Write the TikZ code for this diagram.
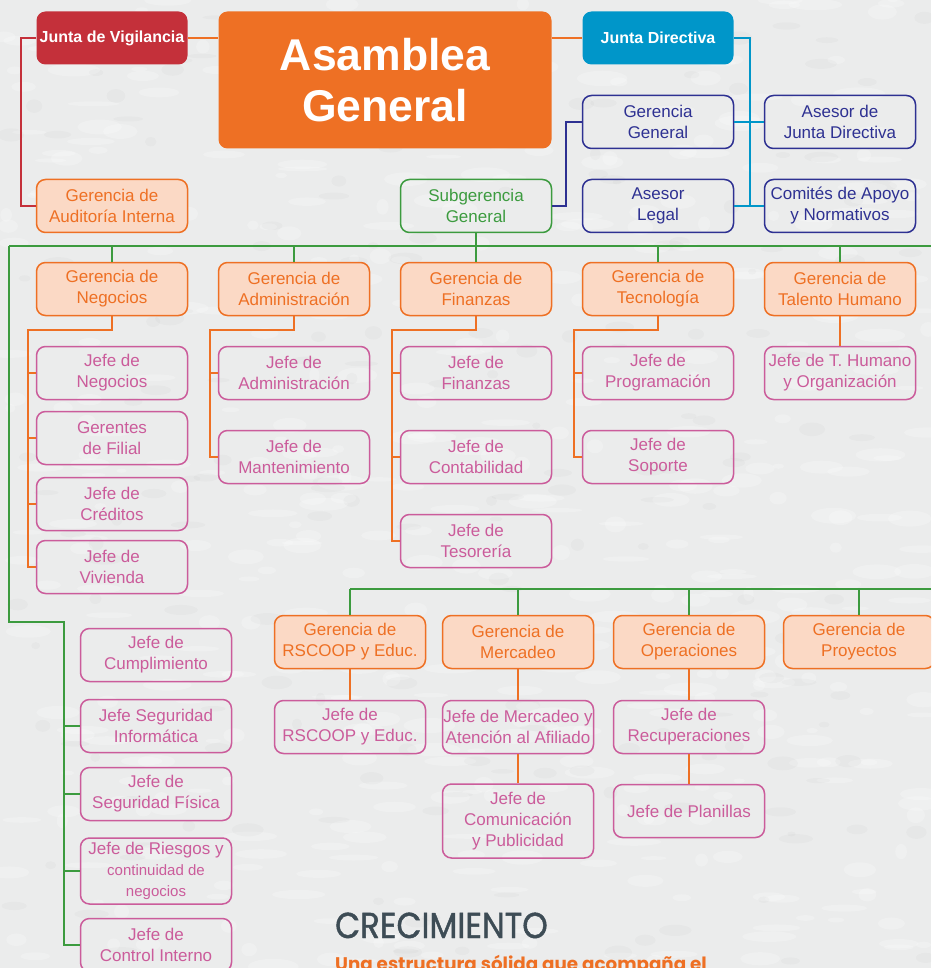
\documentclass[tikz,border=0pt]{standalone}
\usepackage{fontspec}
\setmainfont{Liberation Sans}
\newfontfamily\pop{Poppins}[FakeBold=1.3]
\newfontfamily\popb{Poppins}
\definecolor{bgc}{RGB}{235,236,236}
\definecolor{orC}{RGB}{238,112,36}
\definecolor{peach}{RGB}{251,217,197}
\definecolor{pinkC}{RGB}{203,92,155}
\definecolor{navyC}{RGB}{46,49,146}
\definecolor{blueC}{RGB}{0,150,201}
\definecolor{redC}{RGB}{196,48,58}
\definecolor{grnC}{RGB}{60,155,63}
\definecolor{slateC}{RGB}{61,76,85}
\tikzset{
  box/.style={rounded corners=9pt, line width=1.5pt, align=center, minimum width=151pt, minimum height=53pt, inner sep=0pt, font=\fontsize{17}{21}\selectfont},
  gbox/.style={box, draw=orC, fill=peach, text=orC},
  jbox/.style={box, draw=pinkC, text=pinkC},
  nbox/.style={box, draw=navyC, text=navyC},
  sbox/.style={box, draw=grnC, text=grnC},
  topbox/.style={box, font=\fontsize{16}{20}\selectfont\bfseries, text=white, draw=none},
  ln/.style={line width=2pt},
}
\begin{document}
\begin{tikzpicture}[x=1pt,y=-1pt]
\useasboundingbox (0,0) rectangle (931,968);
\clip (0,0) rectangle (931,968);
\fill[bgc] (0,0) rectangle (931,968);
% subtle paper texture
\pgfmathsetseed{4711}
\foreach \i in {1,...,500} {
  \pgfmathsetmacro{\xx}{rnd*931}
  \pgfmathsetmacro{\yy}{rnd*968}
  \pgfmathsetmacro{\ww}{5+rnd*22}
  \pgfmathsetmacro{\hh}{2+rnd*6}
  \fill[white, opacity=0.22] (\xx,\yy) ellipse [x radius=\ww, y radius=\hh];
}
\foreach \i in {1,...,200} {
  \pgfmathsetmacro{\xx}{rnd*931}
  \pgfmathsetmacro{\yy}{rnd*968}
  \pgfmathsetmacro{\ww}{4+rnd*14}
  \pgfmathsetmacro{\hh}{2+rnd*5}
  \fill[black, opacity=0.018] (\xx,\yy) ellipse [x radius=\ww, y radius=\hh];
}

% top row
\node[topbox, fill=redC] (JV) at (112,38) {Junta de Vigilancia};
\node[topbox, fill=orC, minimum width=333pt, minimum height=137pt, font=\fontsize{44.5}{51}\selectfont\bfseries] (AG) at (385,80) {Asamblea\\General};
\node[topbox, fill=blueC] (JD) at (658,38) {Junta Directiva};
\node[nbox] (GG) at (658,122) {Gerencia\\General};
\node[nbox] (AJD) at (840,122) {Asesor de\\Junta Directiva};
\node[nbox] (AL) at (658,206) {Asesor\\Legal};
\node[nbox] (CA) at (840,206) {Comités de Apoyo\\y Normativos};
\node[sbox] (SG) at (476,206) {Subgerencia\\General};
\node[gbox] (GA) at (112,206) {Gerencia de\\Auditoría Interna};

% row 1
\node[gbox] (GN) at (112,289) {Gerencia de\\Negocios};
\node[gbox] (GAd) at (294,289) {Gerencia de\\Administración};
\node[gbox] (GF) at (476,289) {Gerencia de\\Finanzas};
\node[gbox] (GT) at (658,289) {Gerencia de\\Tecnología};
\node[gbox] (GTH) at (840,289) {Gerencia de\\Talento Humano};

\node[jbox] (N1) at (112,373) {Jefe de\\Negocios};
\node[jbox] (N2) at (112,438) {Gerentes\\de Filial};
\node[jbox] (N3) at (112,504) {Jefe de\\Créditos};
\node[jbox] (N4) at (112,567) {Jefe de\\Vivienda};
\node[jbox] (A1) at (294,373) {Jefe de\\Administración};
\node[jbox] (A2) at (294,457) {Jefe de\\Mantenimiento};
\node[jbox] (F1) at (476,373) {Jefe de\\Finanzas};
\node[jbox] (F2) at (476,457) {Jefe de\\Contabilidad};
\node[jbox] (F3) at (476,541) {Jefe de\\Tesorería};
\node[jbox] (T1) at (658,373) {Jefe de\\Programación};
\node[jbox] (T2) at (658,457) {Jefe de\\Soporte};
\node[jbox] (H1) at (840,373) {Jefe de T. Humano\\y Organización};

% left column
\node[jbox] (L1) at (156,655) {Jefe de\\Cumplimiento};
\node[jbox] (L2) at (156,726) {Jefe Seguridad\\Informática};
\node[jbox] (L3) at (156,794) {Jefe de\\Seguridad Física};
\node[jbox, minimum height=66pt] (L4) at (156,871) {Jefe de Riesgos y\\{\fontsize{15}{21}\selectfont continuidad de}\\{\fontsize{15}{21}\selectfont negocios}};
\node[jbox] (L5) at (156,945) {Jefe de\\Control Interno};

% row 2
\node[gbox] (R1) at (350,642) {Gerencia de\\RSCOOP y Educ.};
\node[gbox] (R2) at (518,642) {Gerencia de\\Mercadeo};
\node[gbox] (R3) at (689,642) {Gerencia de\\Operaciones};
\node[gbox] (R4) at (859,642) {Gerencia de\\Proyectos};
\node[jbox] (R1a) at (350,727) {Jefe de\\RSCOOP y Educ.};
\node[jbox] (R2a) at (518,727) {Jefe de Mercadeo y\\Atención al Afiliado};
\node[jbox, minimum height=74pt] (R2b) at (518,821) {Jefe de\\Comunicación\\y Publicidad};
\node[jbox] (R3a) at (689,727) {Jefe de\\Recuperaciones};
\node[jbox] (R3b) at (689,811) {Jefe de Planillas};

% connectors top
\draw[ln, draw=orC] (JV.east) -- (JV.east -| AG.west);
\draw[ln, draw=orC] (JD.west -| AG.east) -- (JD.west);
\draw[ln, draw=redC] (JV.west) -- ([xshift=-15pt]JV.west) |- (GA.west);
\draw[ln, draw=blueC] (JD.east) -- ([xshift=16pt]JD.east) |- (CA.west);
\draw[ln, draw=blueC] (GG.east) -- (AJD.west);
\draw[ln, draw=blueC] (AL.east) -- (CA.west);
\draw[ln, draw=navyC] (GG.west) -- ([xshift=-16pt]GG.west) |- (SG.east);

% green bus 1
\coordinate (bL) at (9,246);
\coordinate (bR) at (931,246);
\draw[ln, draw=grnC] (bL) -- (bR);
\draw[ln, draw=grnC] (SG.south) -- (SG.south |- bL);
\foreach \n in {GN,GAd,GF,GT,GTH} \draw[ln, draw=grnC] (\n.north) -- (\n.north |- bL);
% left green column
\coordinate (lc) at (64,622);
\draw[ln, draw=grnC] (bL) |- (lc) -- (lc |- L5.west) -- (L5.west);
\foreach \n in {L2,L3,L4} \draw[ln, draw=grnC] (lc |- \n.west) -- (\n.west);

% green bus 2
\coordinate (b2L) at (350,589);
\coordinate (b2R) at (931,589);
\draw[ln, draw=grnC] (b2L) -- (b2R);
\foreach \n in {R1,R2,R3,R4} \draw[ln, draw=grnC] (\n.north) -- (\n.north |- b2L);

% orange subtrees
\draw[ln, draw=orC] (GN.south) -- ++(0,14) -| ([xshift=-8pt]N4.west) -- (N4.west);
\foreach \n in {N1,N2,N3} \draw[ln, draw=orC] ([xshift=-8pt]\n.west) -- (\n.west);
\draw[ln, draw=orC] (GAd.south) -- ++(0,14) -| ([xshift=-8pt]A2.west) -- (A2.west);
\draw[ln, draw=orC] ([xshift=-8pt]A1.west) -- (A1.west);
\draw[ln, draw=orC] (GF.south) -- ++(0,14) -| ([xshift=-8pt]F3.west) -- (F3.west);
\foreach \n in {F1,F2} \draw[ln, draw=orC] ([xshift=-8pt]\n.west) -- (\n.west);
\draw[ln, draw=orC] (GT.south) -- ++(0,14) -| ([xshift=-8pt]T2.west) -- (T2.west);
\draw[ln, draw=orC] ([xshift=-8pt]T1.west) -- (T1.west);
\draw[ln, draw=orC] (GTH.south) -- (H1.north);
\draw[ln, draw=orC] (R1.south) -- (R1a.north);
\draw[ln, draw=orC] (R2.south) -- (R2a.north);
\draw[ln, draw=orC] (R2a.south) -- (R2b.north);
\draw[ln, draw=orC] (R3.south) -- (R3a.north);
\draw[ln, draw=orC] (R3a.south) -- (R3b.north);

% footer text
\node[anchor=base west, inner sep=0pt, text=slateC, font=\pop\fontsize{36}{40}\selectfont, xscale=0.9, transform shape] (title) at (335,938) {CRECIMIENTO};
\node[anchor=base west, inner sep=0pt, text=orC, font=\popb\bfseries\fontsize{18.3}{20}\selectfont] (sub) at (335,970) {Una estructura sólida que acompaña el};
\end{tikzpicture}
\end{document}
